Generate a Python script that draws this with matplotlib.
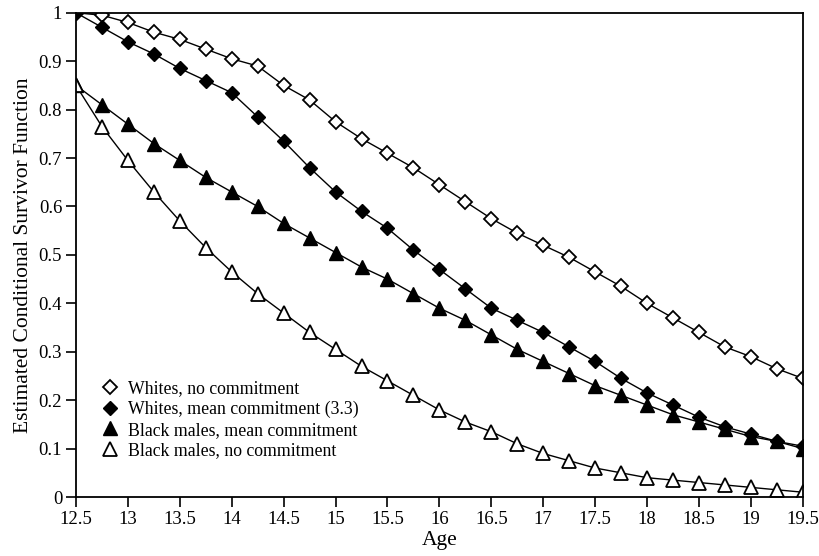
import numpy as np
import matplotlib.pyplot as plt

plt.rcParams['font.family'] = ['Liberation Serif', 'DejaVu Serif']

age = [12.5, 12.75, 13, 13.25, 13.5, 13.75, 14, 14.25, 14.5, 14.75, 15, 15.25, 15.5, 15.75,
       16, 16.25, 16.5, 16.75, 17, 17.25, 17.5, 17.75, 18, 18.25, 18.5, 18.75, 19, 19.25, 19.5]

whites_none = [1.0, 0.995, 0.98, 0.96, 0.945, 0.925, 0.905, 0.89, 0.85, 0.82, 0.775, 0.74, 0.71, 0.68,
               0.645, 0.61, 0.575, 0.545, 0.52, 0.495, 0.465, 0.435, 0.40, 0.37, 0.34, 0.31, 0.29, 0.265, 0.245]
whites_mean = [1.0, 0.97, 0.94, 0.915, 0.885, 0.86, 0.835, 0.785, 0.735, 0.68, 0.63, 0.59, 0.555, 0.51,
               0.47, 0.43, 0.39, 0.365, 0.34, 0.31, 0.28, 0.245, 0.215, 0.19, 0.165, 0.145, 0.13, 0.115, 0.105]
black_mean = [0.85, 0.81, 0.77, 0.73, 0.695, 0.66, 0.63, 0.60, 0.565, 0.535, 0.505, 0.475, 0.45, 0.42,
              0.39, 0.365, 0.335, 0.305, 0.28, 0.255, 0.23, 0.21, 0.19, 0.17, 0.155, 0.14, 0.125, 0.115, 0.10]
black_none = [0.85, 0.765, 0.695, 0.63, 0.57, 0.515, 0.465, 0.42, 0.38, 0.34, 0.305, 0.27, 0.24, 0.21,
              0.18, 0.155, 0.135, 0.11, 0.09, 0.075, 0.06, 0.05, 0.04, 0.035, 0.03, 0.025, 0.02, 0.015, 0.01]

labels = ['Whites, no commitment', 'Whites, mean commitment (3.3)',
          'Black males, mean commitment', 'Black males, no commitment']

fig = plt.figure(figsize=(8.2, 5.56), dpi=100)
ax = fig.add_axes([0.0927, 0.106, 0.8863, 0.871])

ax.plot(age, whites_none, color='black', lw=1, marker='D', ms=7.5, mfc='white', mec='black', mew=1.3, label=labels[0])
ax.plot(age, whites_mean, color='black', lw=1, marker='D', ms=7, mfc='black', mec='black', label=labels[1])
ax.plot(age, black_mean, color='black', lw=1, marker='^', ms=9.5, mfc='black', mec='black', label=labels[2])
ax.plot(age, black_none, color='black', lw=1, marker='^', ms=10.5, mfc='white', mec='black', mew=1.3, label=labels[3])

ax.set_xlim(12.5, 19.5)
ax.set_ylim(0, 1)
ax.set_xticks(np.arange(12.5, 19.51, 0.5))
ax.set_xticklabels(['12.5', '13', '13.5', '14', '14.5', '15', '15.5', '16', '16.5', '17',
                    '17.5', '18', '18.5', '19', '19.5'])
ax.set_yticks(np.arange(0, 1.01, 0.1))
ax.set_yticklabels(['0', '0.1', '0.2', '0.3', '0.4', '0.5', '0.6', '0.7', '0.8', '0.9', '1'])
ax.tick_params(direction='out', length=7, width=1.2, labelsize=13.5, pad=3)
for s in ax.spines.values():
    s.set_linewidth(1.3)

ax.set_xlabel('Age', fontsize=15.5, labelpad=2)
ax.set_ylabel('Estimated Conditional Survivor Function', fontsize=15.5, labelpad=4)

ax.legend(loc='lower left', bbox_to_anchor=(0.015, 0.045), frameon=False, fontsize=12.8,
          handlelength=0.8, handletextpad=0.6, labelspacing=0.2)
leg = ax.get_legend()
for line in leg.get_lines():
    line.set_linestyle('none')

fig.savefig('out.png', dpi=100)
